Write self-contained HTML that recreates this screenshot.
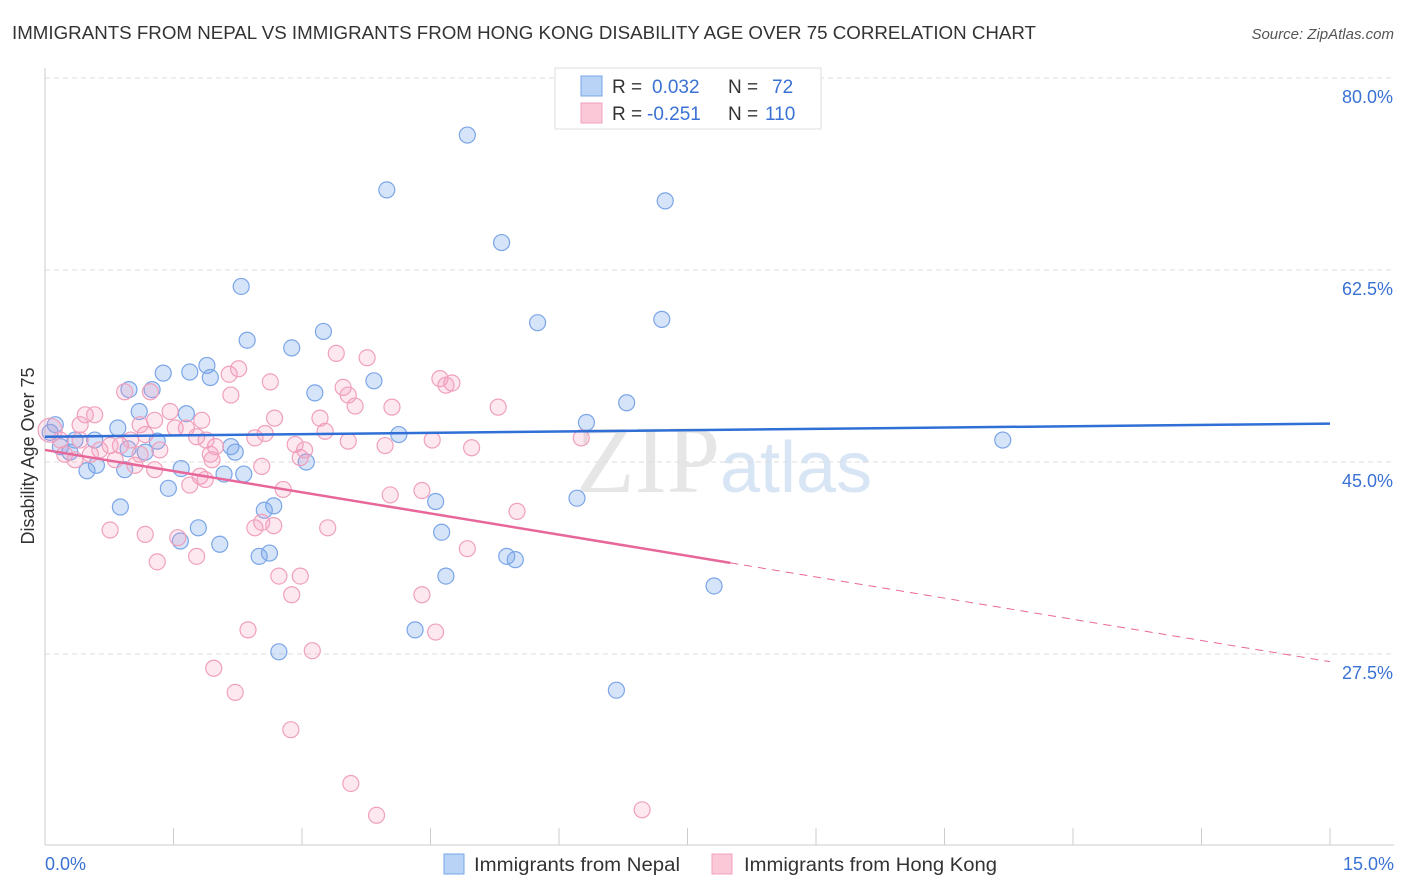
<!DOCTYPE html>
<html><head><meta charset="utf-8"><style>
body{margin:0;background:#fff;font-family:"Liberation Sans",sans-serif}
svg{display:block}
</style></head><body>
<svg id="chart" width="1406" height="892">
<text x="12" y="39" font-size="18.5" fill="#333" textLength="1024" lengthAdjust="spacingAndGlyphs">IMMIGRANTS FROM NEPAL VS IMMIGRANTS FROM HONG KONG DISABILITY AGE OVER 75 CORRELATION CHART</text>
<text x="1394" y="39" font-size="15" fill="#555" font-style="italic" text-anchor="end">Source: ZipAtlas.com</text>
<text x="720" y="492" font-size="96" font-family="Liberation Serif,serif" fill="#e6e6e6" text-anchor="end">ZIP</text>
<text x="720" y="492" font-size="72" fill="#d8e5f4">atlas</text>
<text transform="translate(34,456) rotate(-90)" font-size="18" fill="#333" text-anchor="middle">Disability Age Over 75</text>
<g id="grid"></g><g id="marks"></g>
<g>
<rect x="555" y="68" width="266" height="61" fill="#fff" stroke="#ddd"/>
<rect x="581" y="76" width="21" height="20" fill="#b8d3f5" stroke="#7aa5e8"/>
<rect x="581" y="103" width="21" height="20" fill="#fbc8d8" stroke="#f0a0bc"/>
<text x="612" y="93" font-size="19" fill="#333">R = <tspan fill="#3a72d4" x="652">0.032</tspan><tspan x="728" fill="#333">N = </tspan><tspan x="772" fill="#3a72d4">72</tspan></text>
<text x="612" y="120" font-size="19" fill="#333">R = <tspan fill="#3a72d4" x="647">-0.251</tspan><tspan x="728" fill="#333">N = </tspan><tspan x="765" fill="#3a72d4">110</tspan></text>
</g>
<g>
<rect x="444" y="854" width="20" height="20" fill="#b8d3f5" stroke="#7aa5e8"/>
<text x="474" y="871" font-size="19" fill="#333" textLength="206" lengthAdjust="spacingAndGlyphs">Immigrants from Nepal</text>
<rect x="712" y="854" width="20" height="20" fill="#fbc8d8" stroke="#f0a0bc"/>
<text x="744" y="871" font-size="19" fill="#333" textLength="253" lengthAdjust="spacingAndGlyphs">Immigrants from Hong Kong</text>
</g>
</svg>
<script>
const yTicks=[80,62.5,45,27.5];
const xTickLabels=["0.0%","15.0%"];
const nepalX=[4.93,3.99,7.24,5.33,2.29,5.75,7.20,3.25,2.36,2.88,1.89,1.69,1.38,1.93,3.84,0.98,1.25,3.15,6.79,1.10,1.65,6.32,4.13,0.12,0.06,0.85,0.58,0.35,1.31,2.17,11.18,0.18,0.29,1.17,2.22,0.97,3.05,1.59,0.93,0.60,0.49,2.09,2.32,1.44,4.56,6.21,0.88,2.67,2.56,1.79,4.63,1.58,2.04,2.62,2.50,5.39,5.49,4.68,7.81,4.32,2.73,6.67];
const nepalY=[74.8,69.8,68.8,65.0,61.0,57.7,58.0,56.9,56.1,55.4,53.8,53.2,53.1,52.7,52.4,51.6,51.6,51.3,50.4,49.6,49.4,48.6,47.5,48.4,47.7,48.1,47.0,47.0,46.9,46.4,47.0,46.4,45.9,45.9,45.9,46.2,45.0,44.4,44.3,44.7,44.2,43.9,43.9,42.6,41.4,41.7,40.9,41.0,40.6,39.0,38.6,37.8,37.5,36.7,36.4,36.4,36.1,34.6,33.7,29.7,27.7,24.2];
const hkX=[0.06,0.18,0.23,0.41,0.47,0.58,0.41,0.64,0.76,0.35,0.53,0.82,0.88,1.0,1.05,1.11,1.17,0.93,1.23,1.11,1.28,1.46,1.52,1.34,1.28,1.65,1.77,1.83,1.88,1.93,1.99,2.17,2.15,2.26,1.95,1.81,1.69,1.87,2.45,2.57,2.63,2.68,2.53,2.78,2.92,2.98,3.03,3.21,3.27,3.40,3.62,3.48,3.54,3.54,3.76,4.05,3.97,4.03,4.40,4.52,4.61,4.75,4.68,4.98,5.29,5.51,6.26,0.76,1.17,1.31,1.55,1.77,2.45,2.53,2.67,2.73,2.98,2.88,3.30,4.40,4.93,2.37,3.12,1.97,2.22,2.87,4.56,3.57,3.87,6.97];
const hkY=[47.9,47.0,45.7,47.0,49.3,49.3,48.4,46.1,46.5,45.2,45.7,45.2,46.5,47.0,44.7,45.7,47.5,51.4,51.4,48.4,48.8,49.6,48.1,46.1,44.3,48.1,47.3,48.8,47.0,45.7,46.4,51.1,53.0,53.5,45.2,43.7,42.9,43.4,47.2,47.6,52.3,49.0,44.6,42.5,46.6,45.4,46.1,49.0,47.8,54.9,50.1,51.8,51.1,46.9,54.5,50.0,46.5,42.0,42.4,47.0,52.6,52.2,52.0,46.3,50.0,40.5,47.2,38.8,38.4,35.9,38.1,36.4,39.0,39.5,39.2,34.6,34.6,32.9,39.0,32.9,37.1,29.7,27.8,26.2,24.0,20.6,29.5,15.7,12.8,13.3];
const nepalTrend=[47.3,48.5];
const hkTrend=[46.1,26.8];
const hkSolidEnd=8.0;
const X=v=>45+v*1285/15, Y=v=>78+(80-v)*192/17.5;
const NS="http://www.w3.org/2000/svg";
function mk(t,a,p){const e=document.createElementNS(NS,t);for(const k in a)e.setAttribute(k,a[k]);p.appendChild(e);return e;}
const grid=document.getElementById('grid'),marks=document.getElementById('marks');
yTicks.forEach(v=>{
 const l=mk('line',{x1:45,x2:1394,y1:Y(v),y2:Y(v),stroke:'#ddd','stroke-dasharray':'5,4'},grid);
 
 
 const t=mk('text',{x:1393,y:Y(v)+25,'font-size':18,fill:'#3a72d4','text-anchor':'end'},grid);
 t.textContent=v.toFixed(1)+'%';
 
 
});
const ax=mk('line',{x1:45,x2:1394,y1:845,y2:845,stroke:'#ccc'},grid);


const ay=mk('line',{x1:45,x2:45,y1:68,y2:845,stroke:'#ccc'},grid);


for(let i=0;i<=10;i++){const t=mk('line',{x1:X(i*1.5),x2:X(i*1.5),y1:828,y2:845,stroke:'#ccc'},grid);
 
 }
const xl0=mk('text',{x:45,y:870,'font-size':18,fill:'#3a72d4'},grid);xl0.textContent=xTickLabels[0];


const xl1=mk('text',{x:1394,y:870,'font-size':18,fill:'#3a72d4','text-anchor':'end'},grid);xl1.textContent=xTickLabels[1];


nepalX.forEach((x,i)=>{const c=mk('circle',{cx:X(x),cy:Y(nepalY[i]),r:8,fill:'rgba(120,165,235,0.3)',stroke:'#7aa5e8','stroke-width':1.2},marks);
 
 });
hkX.forEach((x,i)=>{const c=mk('circle',{cx:X(x),cy:Y(hkY[i]),r:i==0?12:8,fill:'rgba(245,150,185,0.22)',stroke:'#f0a0bc','stroke-width':1.2},marks);
 
 });
const bl=mk('line',{x1:X(0),y1:Y(nepalTrend[0]),x2:X(15),y2:Y(nepalTrend[1]),stroke:'#2f6fd6','stroke-width':2.5},marks);


const hm=hkTrend[0]+(hkTrend[1]-hkTrend[0])*hkSolidEnd/15;
const pl=mk('line',{x1:X(0),y1:Y(hkTrend[0]),x2:X(hkSolidEnd),y2:Y(hm),stroke:'#e8679a','stroke-width':2.5},marks);


const pd=mk('line',{x1:X(hkSolidEnd),y1:Y(hm),x2:X(15),y2:Y(hkTrend[1]),stroke:'#e8679a','stroke-width':1,'stroke-dasharray':'8,6'},marks);


</script>
</body></html>
